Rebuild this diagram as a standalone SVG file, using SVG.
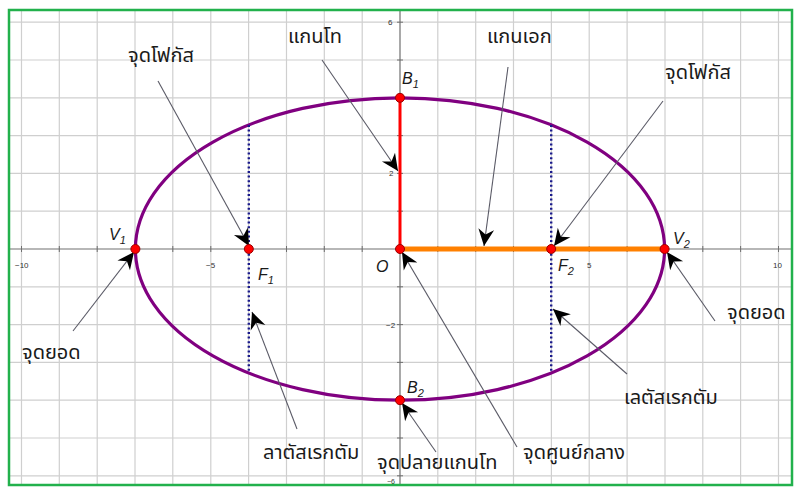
<svg xmlns="http://www.w3.org/2000/svg" width="800" height="494" viewBox="0 0 800 494">
<style>
.grid{stroke:#cfcfcf;stroke-width:1.2;fill:none}
.axis{stroke:#707070;stroke-width:1.2;fill:none}
.tick{stroke:#707070;stroke-width:1}
.lbl{font-family:"Noto Sans Thai","DejaVu Sans",sans-serif;font-size:20px;fill:#1a1a1a}
.pt{font-family:"Liberation Sans",Arial,sans-serif;font-style:italic;font-size:16px;fill:#1a1a1a}
.sub{font-size:11px}
.ax{font-family:"Liberation Sans",Arial,sans-serif;font-size:8px;fill:#333}
.ptr{stroke:#5a5a66;stroke-width:1.1;fill:none;marker-end:url(#ah)}
.dot{fill:#ff0000;stroke:#990000;stroke-width:1}
.lr{stroke:#1a1a8c;stroke-width:2.4;stroke-dasharray:2 2.6;fill:none}
</style>
<defs>
<marker id="ah" markerUnits="userSpaceOnUse" markerWidth="20" markerHeight="20" viewBox="-17 -9 19 18" refX="0" refY="0" orient="auto">
<path d="M0,0 L-16,-7.5 L-11,0 L-16,7.5 Z" fill="#000"/>
</marker>
</defs>
<rect x="0" y="0" width="800" height="494" fill="#ffffff"/>
<g id="grid">
<path class="grid" d="M21.5,10V485M59.3,10V485M97.2,10V485M135,10V485M172.8,10V485M210.8,10V485M248.6,10V485M286.5,10V485M324.3,10V485M362.2,10V485M437.8,10V485M475.7,10V485M513.5,10V485M551.4,10V485M589.2,10V485M627.1,10V485M665,10V485M702.8,10V485M740.6,10V485M778.5,10V485"/>
<path class="grid" d="M9,22.2H792M9,60H792M9,97.8H792M9,135.6H792M9,173.4H792M9,211.2H792M9,286.8H792M9,324.6H792M9,362.4H792M9,400.2H792M9,438H792M9,475.8H792"/>
</g>
<g id="axes">
<path class="axis" d="M9,249H792M400,10V485"/>
<path class="tick" d="M21.5,246V252M59.3,246V252M97.2,246V252M135,246V252M172.8,246V252M210.8,246V252M248.6,246V252M286.5,246V252M324.3,246V252M362.2,246V252M437.8,246V252M475.7,246V252M513.5,246V252M551.4,246V252M589.2,246V252M627.1,246V252M665,246V252M702.8,246V252M740.6,246V252M778.5,246V252"/>
<path class="tick" d="M397,22.2H403M397,60H403M397,97.8H403M397,135.6H403M397,173.4H403M397,211.2H403M397,286.8H403M397,324.6H403M397,362.4H403M397,400.2H403M397,438H403M397,475.8H403"/>
<text class="ax" x="15" y="268">−10</text>
<text class="ax" x="206" y="268">−5</text>
<text class="ax" x="587" y="268">5</text>
<text class="ax" x="773" y="268">10</text>
<text class="ax" x="388" y="25">6</text>
<text class="ax" x="389" y="176">2</text>
<text class="ax" x="386" y="328">−2</text>
<text class="ax" x="387" y="484" style="font-size:7px">−6</text>
</g>
<g id="ellipse">
<ellipse cx="400" cy="249" rx="264.6" ry="151.2" fill="none" stroke="#800080" stroke-width="3.2"/>
</g>
<g id="major-axis">
<line x1="400" y1="249" x2="664.6" y2="249" stroke="#ff8000" stroke-width="5"/>
</g>
<g id="minor-axis">
<line x1="400" y1="249" x2="400" y2="97.8" stroke="#ff0000" stroke-width="3"/>
</g>
<g id="latus-rectum-1">
<line class="lr" x1="248.8" y1="125" x2="248.8" y2="373"/>
</g>
<g id="latus-rectum-2">
<line class="lr" x1="551.2" y1="125" x2="551.2" y2="373"/>
</g>
<g id="connectors">
<line class="ptr" x1="158" y1="81" x2="249" y2="246"/>
<line class="ptr" x1="322" y1="60" x2="398" y2="171"/>
<line class="ptr" x1="508" y1="67" x2="484" y2="246"/>
<line class="ptr" x1="663" y1="101" x2="554" y2="246"/>
<line class="ptr" x1="73" y1="331" x2="134" y2="252"/>
<line class="ptr" x1="297" y1="429" x2="252" y2="312"/>
<line class="ptr" x1="715" y1="321" x2="667" y2="252"/>
<line class="ptr" x1="627" y1="374" x2="553" y2="309"/>
<line class="ptr" x1="517" y1="447" x2="402" y2="252"/>
<line class="ptr" x1="436" y1="452" x2="402" y2="403"/>
</g>
<g id="point-V1"><circle class="dot" cx="135.4" cy="249" r="4.5"/><text class="pt" x="109" y="240">V<tspan class="sub" dy="4">1</tspan></text></g>
<g id="point-V2"><circle class="dot" cx="664.6" cy="249" r="4.5"/><text class="pt" x="673" y="244">V<tspan class="sub" dy="4">2</tspan></text></g>
<g id="point-F1"><circle class="dot" cx="248.8" cy="249" r="4.5"/><text class="pt" x="258" y="280">F<tspan class="sub" dy="4">1</tspan></text></g>
<g id="point-F2"><circle class="dot" cx="551.2" cy="249" r="4.5"/><text class="pt" x="558" y="271">F<tspan class="sub" dy="4">2</tspan></text></g>
<g id="point-O"><circle class="dot" cx="400" cy="249" r="4.5"/><text class="pt" x="376" y="272">O</text></g>
<g id="point-B1"><circle class="dot" cx="400" cy="97.8" r="4.5"/><text class="pt" x="402" y="84">B<tspan class="sub" dy="4">1</tspan></text></g>
<g id="point-B2"><circle class="dot" cx="400" cy="400.2" r="4.5"/><text class="pt" x="407" y="393">B<tspan class="sub" dy="4">2</tspan></text></g>
<g id="labels">
<text class="lbl" x="288" y="43">แกนโท</text>
<text class="lbl" x="128" y="62">จุดโฟกัส</text>
<text class="lbl" x="487" y="43">แกนเอก</text>
<text class="lbl" x="665" y="79">จุดโฟกัส</text>
<text class="lbl" x="22" y="359">จุดยอด</text>
<text class="lbl" x="263" y="459">ลาตัสเรกตัม</text>
<text class="lbl" x="377" y="469">จุดปลายแกนโท</text>
<text class="lbl" x="523" y="459">จุดศูนย์กลาง</text>
<text class="lbl" x="624" y="404">เลตัสเรกตัม</text>
<text class="lbl" x="727" y="319">จุดยอด</text>
</g>
<g id="frame">
<rect x="9" y="10" width="783" height="475" fill="none" stroke="#22b14c" stroke-width="2.5"/>
</g>
</svg>
